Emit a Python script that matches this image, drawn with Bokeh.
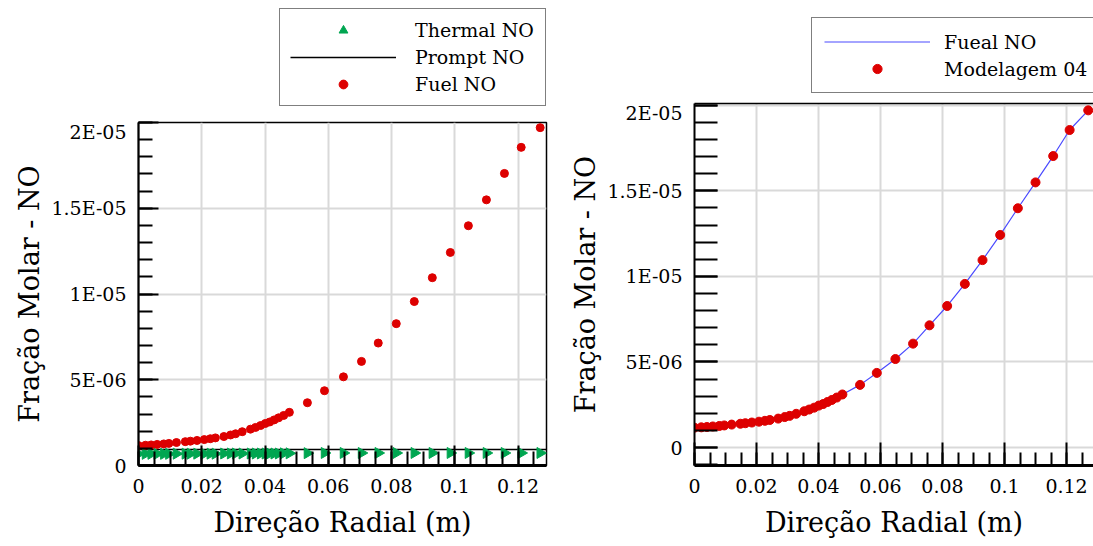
import math
from bokeh.plotting import figure
from bokeh.layouts import row, column
from bokeh.models import Range1d, FixedTicker, Legend, LegendItem, LinearAxis
from bokeh.embed import file_html
from bokeh.resources import INLINE

# ---------------- data ----------------
radial_m = [0.0, 0.0022, 0.0040, 0.0059, 0.0080, 0.0096, 0.0120, 0.0148, 0.0164, 0.0185,
            0.0208, 0.0227, 0.0243, 0.0270, 0.0291, 0.0307, 0.0328, 0.0354, 0.0370, 0.0386,
            0.0401, 0.0415, 0.0429, 0.0443, 0.0459, 0.0477, 0.0534, 0.0588, 0.0648, 0.0705,
            0.0758, 0.0815, 0.0872, 0.0929, 0.0986, 0.1043, 0.1100, 0.1157, 0.1210, 0.1270]

fuel_no = [1.16e-6, 1.18e-6, 1.20e-6, 1.23e-6, 1.26e-6, 1.29e-6, 1.34e-6, 1.39e-6, 1.42e-6, 1.46e-6,
           1.51e-6, 1.56e-6, 1.61e-6, 1.69e-6, 1.78e-6, 1.85e-6, 1.97e-6, 2.12e-6, 2.22e-6, 2.33e-6,
           2.45e-6, 2.54e-6, 2.66e-6, 2.78e-6, 2.92e-6, 3.10e-6, 3.66e-6, 4.36e-6, 5.17e-6, 6.07e-6,
           7.14e-6, 8.27e-6, 9.56e-6, 1.095e-5, 1.242e-5, 1.398e-5, 1.549e-5, 1.703e-5, 1.855e-5, 1.97e-5]

thermal_no = [0.68e-6, 0.68e-6, 0.68e-6, 0.68e-6, 0.68e-6, 0.68e-6, 0.69e-6, 0.69e-6, 0.69e-6, 0.69e-6,
              0.69e-6, 0.69e-6, 0.69e-6, 0.70e-6, 0.70e-6, 0.70e-6, 0.70e-6, 0.70e-6, 0.70e-6, 0.70e-6,
              0.70e-6, 0.70e-6, 0.70e-6, 0.70e-6, 0.71e-6, 0.71e-6, 0.72e-6, 0.73e-6, 0.73e-6, 0.73e-6,
              0.73e-6, 0.73e-6, 0.73e-6, 0.73e-6, 0.73e-6, 0.73e-6, 0.73e-6, 0.73e-6, 0.73e-6, 0.73e-6]

prompt_x = [0.0, 0.129]
prompt_no = [0.93e-6, 0.93e-6]

# right panel: model curve and Modelagem 04 points
fueal_no_x = radial_m
fueal_no = fuel_no
modelagem_x = radial_m
modelagem_04 = fuel_no

x_ticks = [0.0, 0.02, 0.04, 0.06, 0.08, 0.1, 0.12]
x_tick_labels = ["0", "0.02", "0.04", "0.06", "0.08", "0.1", "0.12"]
y_ticks = [0.0, 5e-06, 1e-05, 1.5e-05, 2e-05]
y_tick_labels = ["0", "5E-06", "1E-05", "1.5E-05", "2E-05"]

x_label = "Direção Radial (m)"
y_label = "Fração Molar - NO"

# ---------------- styling ----------------
FONT = "DejaVu Serif"
RED = "#dd0000"
GREEN = "#00a651"
BLUE = "#4a4aff"

x_minor = [i * 0.005 for i in range(0, 27)]
y_minor = [i * 1e-6 for i in range(-1, 21)]


def style_axes(p, xmaj, xmin, ymaj, ymin):
    p.xaxis.ticker = FixedTicker(ticks=x_ticks, minor_ticks=x_minor)
    p.yaxis.ticker = FixedTicker(ticks=y_ticks, minor_ticks=y_minor)
    p.xaxis.major_label_overrides = dict(zip(x_ticks, x_tick_labels))
    p.yaxis.major_label_overrides = dict(zip(y_ticks, y_tick_labels))
    for ax, maj, mn in ((p.xaxis, xmaj, xmin), (p.yaxis, ymaj, ymin)):
        ax.major_tick_in = maj
        ax.major_tick_out = 0
        ax.minor_tick_in = mn
        ax.minor_tick_out = 0
        ax.major_tick_line_color = "black"
        ax.minor_tick_line_color = "black"
        ax.major_tick_line_width = 2
        ax.minor_tick_line_width = 2
        ax.axis_line_color = "black"
        ax.major_label_text_font = FONT
        ax.major_label_text_font_size = "19px"
        ax.major_label_text_color = "black"
        ax.axis_label_text_font = FONT
        ax.axis_label_text_font_size = "27px"
        ax.axis_label_text_font_style = "normal"
        ax.axis_label_text_color = "black"
    p.xaxis.axis_line_width = 3
    p.yaxis.axis_line_width = 2
    p.xaxis.axis_label = x_label
    p.yaxis.axis_label = y_label
    p.xaxis.major_label_standoff = 13
    p.xaxis.axis_label_standoff = 11
    p.yaxis.major_label_standoff = 12
    p.yaxis.axis_label_standoff = 3
    p.grid.grid_line_color = "#d9d9d9"
    p.grid.grid_line_width = 2
    p.background_fill_color = "white"
    p.border_fill_color = "white"


def legend_fig(w, h, x_end):
    # strip above a panel that only carries its legend; the series drawn here
    # lie outside its y range, so only their legend glyphs show
    f = figure(width=w, height=h, output_backend="svg", toolbar_location=None,
               x_axis_type=None, y_axis_type=None,
               x_range=Range1d(0, x_end), y_range=Range1d(1.0, 2.0),
               min_border_left=0, min_border_right=0, min_border_top=0, min_border_bottom=0)
    f.outline_line_color = None
    f.grid.visible = False
    f.background_fill_color = "white"
    f.border_fill_color = "white"
    return f


def legend_style(leg):
    leg.border_line_color = "black"
    leg.border_line_width = 1.5
    leg.background_fill_color = "white"
    leg.background_fill_alpha = 1
    leg.label_text_font = FONT
    leg.label_text_font_size = "19px"
    leg.label_text_color = "black"
    leg.glyph_width = 106
    leg.glyph_height = 22
    leg.label_height = 22
    leg.label_standoff = 19
    leg.padding = 10
    leg.spacing = 5
    leg.margin = 0


# ---------------- left panel ----------------
lf1 = legend_fig(560, 120, 0.129)
d_thermal = lf1.scatter(radial_m, thermal_no, marker="triangle", angle=-math.pi / 2, size=11,
                        fill_color=GREEN, line_color=GREEN)
d_prompt = lf1.line(prompt_x, prompt_no, line_color="black", line_width=1.5)
d_fuel = lf1.scatter(radial_m, fuel_no, marker="circle", size=8, fill_color=RED, line_color=RED)
leg1 = Legend(items=[LegendItem(label="Thermal NO", renderers=[d_thermal]),
                     LegendItem(label="Prompt NO", renderers=[d_prompt]),
                     LegendItem(label="Fuel NO", renderers=[d_fuel])],
              location=(141, 14))
legend_style(leg1)
leg1.label_width = 120
lf1.add_layout(leg1)

p1 = figure(width=560, height=426, output_backend="svg", toolbar_location=None,
            x_range=Range1d(0, 0.129), y_range=Range1d(0, 2.0e-5),
            min_border_left=138, min_border_right=14, min_border_top=2, min_border_bottom=81)
style_axes(p1, 20, 14, 20, 14)
p1.outline_line_color = "black"
p1.outline_line_width = 1.5

p1.line(prompt_x, prompt_no, line_color="black", line_width=1.5)
p1.scatter(radial_m, thermal_no, marker="triangle", angle=-math.pi / 2,
           size=11, fill_color=GREEN, line_color=GREEN)
p1.scatter(radial_m, fuel_no, marker="circle", size=8, fill_color=RED, line_color=RED)

# ---------------- right panel ----------------
lf2 = legend_fig(533, 101, 0.1287)
d_model = lf2.line(fueal_no_x, fueal_no, line_color=BLUE, line_width=1.2)
d_mod04 = lf2.scatter(modelagem_x, modelagem_04, marker="circle", size=9,
                      fill_color=RED, line_color=RED)
leg2 = Legend(items=[LegendItem(label="Fueal NO", renderers=[d_model]),
                     LegendItem(label="Modelagem 04", renderers=[d_mod04])],
              location=(117, 8))
legend_style(leg2)
leg2.padding = 12
leg2.spacing = 4
leg2.glyph_height = 23
leg2.label_height = 23
leg2.label_standoff = 14
leg2.label_width = 170
lf2.add_layout(leg2)

p2 = figure(width=533, height=445, output_backend="svg", toolbar_location=None,
            x_range=Range1d(0, 0.1287), y_range=Range1d(-1.05e-6, 2.01e-5),
            min_border_left=134, min_border_right=0, min_border_top=2, min_border_bottom=81)
style_axes(p2, 23, 13, 23, 23)
p2.outline_line_color = None
top_axis = LinearAxis(ticker=FixedTicker(ticks=[]), axis_line_width=1.5, axis_line_color="black",
                      major_tick_in=0, major_tick_out=0, minor_tick_in=0, minor_tick_out=0,
                      major_label_text_font_size="0px", major_label_standoff=0,
                      axis_label_standoff=0)
p2.add_layout(top_axis, "above")

p2.line(fueal_no_x, fueal_no, line_color=BLUE, line_width=1.2)
p2.scatter(modelagem_x, modelagem_04, marker="circle", size=9, fill_color=RED, line_color=RED)

layout = row(column(lf1, p1), column(lf2, p2))
open("out.html", "w").write(file_html(layout, INLINE))
